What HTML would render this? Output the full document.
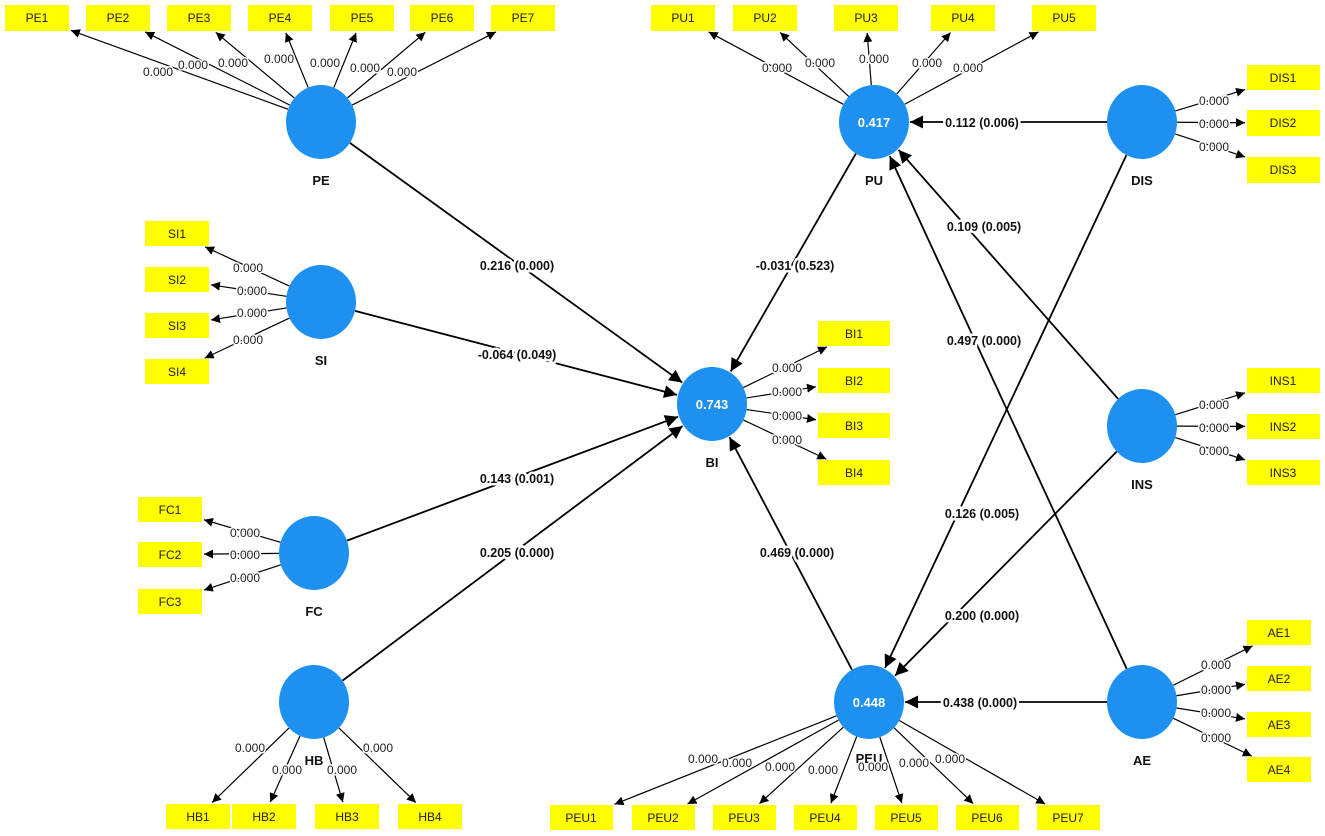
<!DOCTYPE html>
<html><head><meta charset="utf-8"><style>
html,body{margin:0;padding:0;background:#fff;}
svg{display:block;font-family:"Liberation Sans",sans-serif;}
.ld{font-size:12px;fill:#222;}
.pl{font-size:12.5px;font-weight:bold;fill:#111;}
.nm{font-size:13px;font-weight:bold;fill:#111;}
.bx{font-size:12px;fill:#222;}
.rv{font-size:13px;font-weight:bold;fill:#fff;}
</style></head><body>
<svg id="s" width="1325" height="836" viewBox="0 0 1325 836" xmlns="http://www.w3.org/2000/svg">
<defs>
<marker id="a" viewBox="0 0 10 10" refX="10" refY="5" markerWidth="9" markerHeight="9" markerUnits="userSpaceOnUse" orient="auto"><path d="M0,0L10,5L0,10z" fill="#000"/></marker>
<marker id="b" viewBox="0 0 10 10" refX="10" refY="5" markerWidth="13" markerHeight="13" markerUnits="userSpaceOnUse" orient="auto"><path d="M0,0L10,5L0,10z" fill="#000"/></marker>
</defs>
<g id="lines"></g>
<g id="boxes" fill="#ffff00">
<rect x="5" y="5" width="64" height="26"/><rect x="86" y="5" width="64" height="26"/><rect x="167" y="5" width="64" height="26"/><rect x="248" y="5" width="64" height="26"/><rect x="330" y="5" width="64" height="26"/><rect x="410" y="5" width="64" height="26"/><rect x="491" y="5" width="64" height="26"/>
<rect x="651" y="5" width="64" height="26"/><rect x="733" y="5" width="64" height="26"/><rect x="834" y="5" width="64" height="26"/><rect x="931" y="5" width="64" height="26"/><rect x="1032" y="5" width="64" height="26"/>
<rect x="1247" y="65" width="73" height="25"/><rect x="1247" y="110" width="73" height="26"/><rect x="1247" y="157" width="73" height="26"/>
<rect x="145" y="221" width="64" height="25"/><rect x="145" y="267" width="64" height="25"/><rect x="145" y="313" width="64" height="25"/><rect x="145" y="359" width="64" height="25"/>
<rect x="138" y="497" width="64" height="25"/><rect x="138" y="542" width="64" height="25"/><rect x="138" y="589" width="64" height="25"/>
<rect x="818" y="321" width="72" height="25"/><rect x="818" y="368" width="72" height="25"/><rect x="818" y="413" width="72" height="25"/><rect x="818" y="460" width="72" height="25"/>
<rect x="1247" y="368" width="73" height="25"/><rect x="1247" y="414" width="73" height="25"/><rect x="1247" y="460" width="73" height="25"/>
<rect x="1247" y="620" width="64" height="25"/><rect x="1247" y="666" width="64" height="25"/><rect x="1247" y="712" width="64" height="25"/><rect x="1247" y="757" width="64" height="25"/>
<rect x="166" y="804" width="64" height="25"/><rect x="232" y="804" width="64" height="25"/><rect x="315" y="804" width="64" height="25"/><rect x="398" y="804" width="64" height="25"/>
<rect x="550" y="805" width="63" height="25"/><rect x="632" y="805" width="63" height="25"/><rect x="713" y="805" width="63" height="25"/><rect x="794" y="805" width="63" height="25"/><rect x="875" y="805" width="63" height="25"/><rect x="956" y="805" width="63" height="25"/><rect x="1037" y="805" width="63" height="25"/>
</g>
<g class="bx" text-anchor="middle">
<text x="37" y="22">PE1</text><text x="118" y="22">PE2</text><text x="199" y="22">PE3</text><text x="280" y="22">PE4</text><text x="362" y="22">PE5</text><text x="442" y="22">PE6</text><text x="523" y="22">PE7</text>
<text x="683" y="22">PU1</text><text x="765" y="22">PU2</text><text x="866" y="22">PU3</text><text x="963" y="22">PU4</text><text x="1064" y="22">PU5</text>
<text x="1283" y="82">DIS1</text><text x="1283" y="127">DIS2</text><text x="1283" y="174">DIS3</text>
<text x="177" y="238">SI1</text><text x="177" y="284">SI2</text><text x="177" y="330">SI3</text><text x="177" y="376">SI4</text>
<text x="170" y="514">FC1</text><text x="170" y="559">FC2</text><text x="170" y="606">FC3</text>
<text x="854" y="338">BI1</text><text x="854" y="385">BI2</text><text x="854" y="430">BI3</text><text x="854" y="477">BI4</text>
<text x="1283" y="385">INS1</text><text x="1283" y="431">INS2</text><text x="1283" y="477">INS3</text>
<text x="1279" y="637">AE1</text><text x="1279" y="683">AE2</text><text x="1279" y="729">AE3</text><text x="1279" y="774">AE4</text>
<text x="198" y="821">HB1</text><text x="264" y="821">HB2</text><text x="347" y="821">HB3</text><text x="430" y="821">HB4</text>
<text x="581" y="822">PEU1</text><text x="663" y="822">PEU2</text><text x="744" y="822">PEU3</text><text x="825" y="822">PEU4</text><text x="906" y="822">PEU5</text><text x="987" y="822">PEU6</text><text x="1068" y="822">PEU7</text>
</g>
<g id="circles" fill="#1e90f0">
<ellipse cx="321" cy="122" rx="35" ry="37"/><ellipse cx="321" cy="302" rx="35" ry="37"/><ellipse cx="314" cy="553" rx="35" ry="37"/><ellipse cx="314" cy="702" rx="35" ry="37"/>
<ellipse cx="712" cy="404" rx="35" ry="37"/><ellipse cx="874" cy="122" rx="35" ry="37"/><ellipse cx="1142" cy="122" rx="35" ry="37"/><ellipse cx="1142" cy="426" rx="35" ry="37"/>
<ellipse cx="1142" cy="702" rx="35" ry="37"/><ellipse cx="869" cy="702" rx="35" ry="37"/>
</g>
<g class="rv" text-anchor="middle"><text x="712" y="409">0.743</text><text x="874" y="127">0.417</text><text x="869" y="707">0.448</text></g>
<g class="nm" text-anchor="middle">
<text x="321" y="185">PE</text><text x="321" y="365">SI</text><text x="314" y="616">FC</text><text x="314" y="765">HB</text><text x="712" y="467">BI</text>
<text x="874" y="185">PU</text><text x="1142" y="185">DIS</text><text x="1142" y="489">INS</text><text x="1142" y="765">AE</text><text x="869" y="763">PEU</text>
</g>
<g class="ld" text-anchor="middle">
<text x="158" y="76">0.000</text><text x="193" y="69">0.000</text><text x="233" y="67">0.000</text><text x="279" y="63">0.000</text><text x="325" y="67">0.000</text><text x="365" y="72">0.000</text><text x="402" y="76">0.000</text>
<text x="777" y="72">0.000</text><text x="820" y="67">0.000</text><text x="874" y="63">0.000</text><text x="927" y="67">0.000</text><text x="968" y="72">0.000</text>
<text x="1214" y="105">0.000</text><text x="1214" y="128">0.000</text><text x="1214" y="151">0.000</text>
<text x="248" y="272">0.000</text><text x="252" y="295">0.000</text><text x="252" y="317">0.000</text><text x="248" y="344">0.000</text>
<text x="245" y="537">0.000</text><text x="245" y="559">0.000</text><text x="245" y="582">0.000</text>
<text x="787" y="372">0.000</text><text x="787" y="396">0.000</text><text x="787" y="420">0.000</text><text x="787" y="444">0.000</text>
<text x="1214" y="409">0.000</text><text x="1214" y="432">0.000</text><text x="1214" y="455">0.000</text>
<text x="1216" y="669">0.000</text><text x="1216" y="694">0.000</text><text x="1216" y="717">0.000</text><text x="1216" y="742">0.000</text>
<text x="250" y="752">0.000</text><text x="287" y="774">0.000</text><text x="342" y="774">0.000</text><text x="378" y="752">0.000</text>
<text x="703" y="763">0.000</text><text x="737" y="767">0.000</text><text x="780" y="771">0.000</text><text x="823" y="774">0.000</text><text x="873" y="771">0.000</text><text x="914" y="767">0.000</text><text x="950" y="763">0.000</text>
</g>
<g class="pl" text-anchor="middle">
<text x="517" y="270">0.216 (0.000)</text><text x="517" y="359">-0.064 (0.049)</text><text x="517" y="483">0.143 (0.001)</text><text x="517" y="557">0.205 (0.000)</text>
<text x="795" y="270">-0.031 (0.523)</text><text x="797" y="557">0.469 (0.000)</text><text x="982" y="127">0.112 (0.006)</text><text x="984" y="231">0.109 (0.005)</text>
<text x="984" y="345">0.497 (0.000)</text><text x="982" y="518">0.126 (0.005)</text><text x="982" y="620">0.200 (0.000)</text><text x="980" y="707">0.438 (0.000)</text>
</g>
</svg>
<script>
(function(){
var NS="http://www.w3.org/2000/svg";
var L=document.getElementById('lines');
var C={};
var es=document.querySelectorAll('#circles ellipse');
var names=['PE','SI','FC','HB','BI','PU','DIS','INS','AE','PEU'];
for(var i=0;i<es.length;i++){C[names[i]]=[+es[i].getAttribute('cx'),+es[i].getAttribute('cy')];}
var bs=document.querySelectorAll('#boxes rect');
var groups=[['PE',7],['PU',5],['DIS',3],['SI',4],['FC',3],['BI',4],['INS',3],['AE',4],['HB',4],['PEU',7]];
var k=0;
function line(x1,y1,x2,y2,w,m){var l=document.createElementNS(NS,'line');l.setAttribute('x1',x1);l.setAttribute('y1',y1);l.setAttribute('x2',x2);l.setAttribute('y2',y2);l.setAttribute('stroke','#000');l.setAttribute('stroke-width',w);l.setAttribute('marker-end','url(#'+m+')');L.appendChild(l);}
groups.forEach(function(g){var c=C[g[0]];for(var j=0;j<g[1];j++){var r=bs[k++];var x=+r.getAttribute('x'),y=+r.getAttribute('y'),w=+r.getAttribute('width'),h=+r.getAttribute('height');var bx=x+w/2,by=y+h/2;var dx=bx-c[0],dy=by-c[1];
var tx=dx!==0?(w/2)/Math.abs(dx):1e9,ty=dy!==0?(h/2)/Math.abs(dy):1e9;var f=1-Math.min(tx,ty);f-=2/Math.hypot(dx,dy);
var d=Math.hypot(dx,dy);var ux=dx/d,uy=dy/d;var sx=c[0]+ux*35,sy=c[1]+uy*37;
line(sx,sy,c[0]+dx*f,c[1]+dy*f,1.2,'a');}});
var P=[['PE','BI'],['SI','BI'],['FC','BI'],['HB','BI'],['PU','BI'],['PEU','BI'],['DIS','PU'],['INS','PU'],['AE','PU'],['DIS','PEU'],['INS','PEU'],['AE','PEU']];
P.forEach(function(p){var a=C[p[0]],b=C[p[1]];var dx=b[0]-a[0],dy=b[1]-a[1];var d=Math.hypot(dx,dy);var ux=dx/d,uy=dy/d;
var ra=Math.sqrt(1/((ux*ux)/(35*35)+(uy*uy)/(37*37)));
line(a[0]+ux*ra,a[1]+uy*ra,b[0]-ux*(ra+1),b[1]-uy*(ra+1),1.8,'b');});
})();
</script>
<style>.pl text{paint-order:stroke;stroke:#fff;stroke-width:5px;}.ld text{paint-order:stroke;stroke:#fff;stroke-width:3px;}</style>
</body></html>
